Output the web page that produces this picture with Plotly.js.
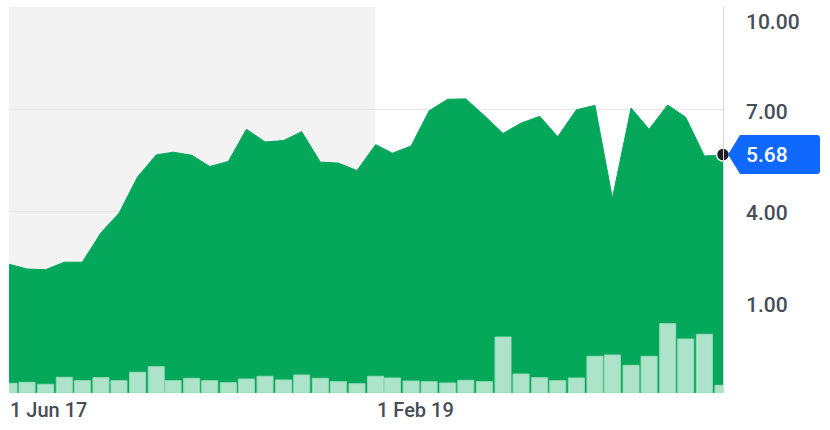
<!DOCTYPE html>
<html>
<head>
<meta charset="utf-8">
<script src="https://cdn.plot.ly/plotly-3.0.1.min.js"></script>
<style>html,body{margin:0;padding:0;background:#fff}#chart{width:830px;height:430px}</style>
</head>
<body>
<div id="chart"></div>
<script>
// ---- data ----
const priceDates = [
  '2017-06-01','2017-07-01','2017-08-01','2017-09-01','2017-10-01','2017-11-01','2017-12-01',
  '2018-01-01','2018-02-01','2018-03-01','2018-04-01','2018-05-01','2018-06-01','2018-07-01',
  '2018-08-01','2018-09-01','2018-10-01','2018-11-01','2018-12-01','2019-01-01','2019-02-01',
  '2019-03-01','2019-04-01','2019-05-01','2019-06-01','2019-07-01','2019-08-01','2019-09-01',
  '2019-10-01','2019-11-01','2019-12-01','2020-01-01','2020-02-01','2020-03-01','2020-04-01',
  '2020-05-01','2020-06-01','2020-07-01','2020-08-01','2020-08-19','2020-09-01'
];
const prices = [
  2.47, 2.33, 2.31, 2.53, 2.53, 3.39, 3.96,
  5.03, 5.67, 5.75, 5.66, 5.33, 5.48, 6.42,
  6.05, 6.09, 6.35, 5.46, 5.43, 5.21, 5.97,
  5.72, 5.93, 6.96, 7.30, 7.31, 6.82, 6.30,
  6.60, 6.80, 6.20, 6.99, 7.12, 4.40, 7.04,
  6.42, 7.13, 6.77, 5.64, 5.65, 5.57
];
const volumeDates = [
  '2017-06-01','2017-07-01','2017-08-01','2017-09-01','2017-10-01','2017-11-01','2017-12-01',
  '2018-01-01','2018-02-01','2018-03-01','2018-04-01','2018-05-01','2018-06-01','2018-07-01',
  '2018-08-01','2018-09-01','2018-10-01','2018-11-01','2018-12-01','2019-01-01','2019-02-01',
  '2019-03-01','2019-04-01','2019-05-01','2019-06-01','2019-07-01','2019-08-01','2019-09-01',
  '2019-10-01','2019-11-01','2019-12-01','2020-01-01','2020-02-01','2020-03-01','2020-04-01',
  '2020-05-01','2020-06-01','2020-07-01','2020-08-01','2020-09-01'
];
const volumes = [ // millions
  0.97, 1.07, 0.87, 1.57, 1.23, 1.53, 1.23,
  2.07, 2.63, 1.23, 1.47, 1.23, 1.03, 1.40,
  1.67, 1.30, 1.80, 1.47, 1.13, 0.93, 1.67,
  1.50, 1.20, 1.13, 1.00, 1.27, 1.13, 5.60,
  1.90, 1.53, 1.23, 1.50, 3.67, 3.80, 2.77,
  3.67, 6.93, 5.40, 5.87, 0.77
];
const lastDate = '2020-09-01';
const lastPrice = 5.68;
const yTickVals = [10, 7, 4, 1];
const yTickText = ['10.00', '7.00', '4.00', '1.00'];
const xTickVals = ['2017-06-01', '2019-02-01'];
const xTickText = ['1 Jun 17', '1 Feb 19'];
const shadeStart = '2017-06-01';
const shadeEnd = '2019-02-01';

// ---- layout constants ----
const Y_MIN = -1.3, Y_MAX = 10;
const VOL_MAX = 38.6;
const yLabelShift = [-14.7, -2.2, -1, 9.5];
const FONT = 'Roboto, "Liberation Sans", Arial, sans-serif';
const TXT = '#464e56';
const GREEN = '#05a75b';

const DAY = 86400000;

const traces = [
  { // baseline for the filled area
    x: priceDates, y: priceDates.map(() => Y_MIN),
    type: 'scatter', mode: 'lines', line: {width: 0, color: GREEN},
    hoverinfo: 'skip', showlegend: false
  },
  {
    x: priceDates, y: prices,
    type: 'scatter', mode: 'lines', fill: 'tonexty',
    fillcolor: GREEN, line: {width: 1, color: GREEN},
    showlegend: false
  },
  {
    x: volumeDates, y: volumes, yaxis: 'y2',
    type: 'bar', width: 26.6 * DAY,
    marker: {color: '#ade4c9', line: {color: '#97dcba', width: 1}},
    showlegend: false
  },
  {
    x: [lastDate], y: [lastPrice],
    type: 'scatter', mode: 'markers', cliponaxis: false,
    marker: {size: 13, color: '#1d1f21', line: {color: '#ffffff', width: 1.5}},
    showlegend: false
  }
];

const annotations = [];
yTickVals.forEach((v, i) => {
  annotations.push({
    xref: 'paper', x: 1, xanchor: 'left', xshift: 21,
    yref: 'y', y: v, yanchor: 'middle', yshift: yLabelShift[i],
    text: yTickText[i], showarrow: false,
    font: {family: FONT, size: 21, color: TXT, weight: 500}
  });
});
xTickVals.forEach((v, i) => {
  annotations.push({
    xref: 'x', x: v, xanchor: 'left', xshift: -1,
    yref: 'paper', y: 0, yanchor: 'top', yshift: -3,
    text: xTickText[i], showarrow: false,
    font: {family: FONT, size: 20, color: TXT, weight: 500}
  });
});
annotations.push({
  xref: 'paper', x: 1, xanchor: 'left', xshift: 21,
  yref: 'y', y: lastPrice, yanchor: 'middle',
  text: lastPrice.toFixed(2), showarrow: false,
  font: {family: FONT, size: 21, color: '#ffffff', weight: 500}
});

const layout = {
  width: 830, height: 430,
  margin: {l: 9, r: 107, t: 7, b: 37, pad: 0},
  paper_bgcolor: '#ffffff', plot_bgcolor: '#ffffff',
  showlegend: false,
  xaxis: {
    type: 'date', range: [priceDates[0], lastDate],
    showgrid: false, zeroline: false, showticklabels: false, ticks: '',
    tickvals: xTickVals, fixedrange: true
  },
  yaxis: {
    range: [Y_MIN, Y_MAX], side: 'right',
    tickvals: yTickVals, showticklabels: false, ticks: '',
    showgrid: true, gridcolor: '#e5e5e5', gridwidth: 1,
    zeroline: false, showline: true, linecolor: '#d5d9df', linewidth: 1
  },
  yaxis2: {
    overlaying: 'y', range: [0, VOL_MAX], visible: false, showgrid: false
  },
  bargap: 0,
  shapes: [
    {
      type: 'rect', xref: 'x', yref: 'paper', layer: 'below',
      x0: shadeStart, x1: shadeEnd, y0: 0, y1: 1,
      fillcolor: '#f3f3f3', line: {width: 0}
    },
    {
      type: 'path', xref: 'paper', xsizemode: 'pixel', xanchor: 1,
      yref: 'y', ysizemode: 'pixel', yanchor: lastPrice, layer: 'above',
      path: 'M 5 0 L 17 19.5 L 94 19.5 Q 97 19.5 97 16.5 L 97 -16.5 Q 97 -19.5 94 -19.5 L 17 -19.5 Z',
      fillcolor: '#0f69ff', line: {width: 0}
    }
  ],
  annotations: annotations,
  hovermode: false
};

Plotly.newPlot('chart', traces, layout, {displayModeBar: false, staticPlot: true});
</script>
</body>
</html>
